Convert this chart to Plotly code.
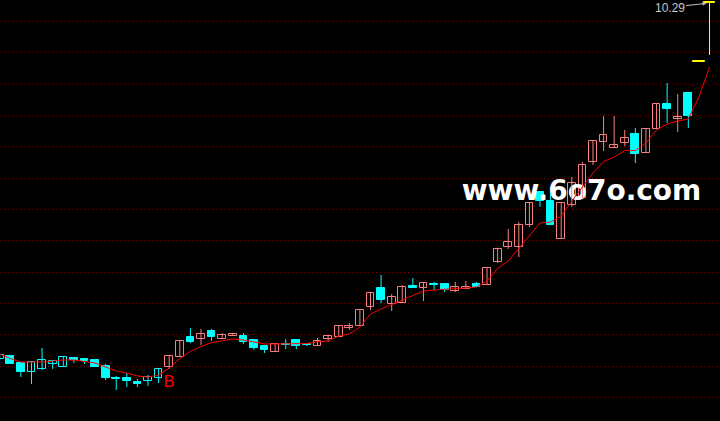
import plotly.graph_objects as go

# ---- candle data (prices) ----
OPEN = [6.73, 6.76, 6.69, 6.60, 6.63, 6.68, 6.65, 6.74, 6.73, 6.72,
        6.66, 6.54, 6.54, 6.50, 6.51, 6.54, 6.65, 6.75, 6.95, 6.93,
        7.01, 6.93, 6.96, 6.96, 6.92, 6.86, 6.80, 6.88, 6.92, 6.885,
        6.86, 6.93, 6.95, 7.04, 7.06, 7.25, 7.44, 7.28, 7.29, 7.46,
        7.44, 7.48, 7.48, 7.41, 7.43, 7.48, 7.47, 7.70, 7.85, 7.85,
        8.07, 8.40, 8.31, 7.93, 8.27, 8.34, 8.70, 8.90, 8.84, 8.89,
        8.98, 8.79, 9.03, 9.28, 9.13, 9.39, 9.70, 10.29]
CLOSE = [6.77, 6.68, 6.60, 6.70, 6.72, 6.71, 6.75, 6.72, 6.71, 6.65,
         6.54, 6.53, 6.51, 6.48, 6.55, 6.63, 6.76, 6.91, 6.90, 6.98,
         6.95, 6.97, 6.98, 6.90, 6.84, 6.82, 6.88, 6.875, 6.86, 6.875,
         6.91, 6.96, 7.06, 7.06, 7.22, 7.39, 7.32, 7.35, 7.45, 7.44,
         7.49, 7.47, 7.42, 7.45, 7.45, 7.45, 7.64, 7.83, 7.90, 8.07,
         8.29, 8.31, 8.07, 8.29, 8.49, 8.67, 8.91, 8.97, 8.87, 8.94,
         8.78, 9.03, 9.28, 9.23, 9.15, 9.16, 9.70, 10.29]
HIGH = [6.78, 6.76, 6.69, 6.71, 6.84, 6.71, 6.75, 6.75, 6.73, 6.72,
        6.68, 6.56, 6.59, 6.53, 6.57, 6.63, 6.76, 6.91, 7.04, 7.03,
        7.03, 6.99, 6.99, 6.99, 6.92, 6.86, 6.88, 6.93, 6.92, 6.885,
        6.94, 6.96, 7.07, 7.09, 7.22, 7.39, 7.57, 7.38, 7.47, 7.54,
        7.49, 7.50, 7.48, 7.50, 7.51, 7.50, 7.64, 7.83, 8.03, 8.10,
        8.29, 8.40, 8.39, 8.29, 8.55, 8.70, 8.91, 9.16, 9.16, 9.02,
        9.04, 9.03, 9.29, 9.49, 9.38, 9.39, 9.70, 10.29]
LOW = [6.72, 6.68, 6.55, 6.48, 6.62, 6.63, 6.65, 6.69, 6.68, 6.65,
       6.52, 6.42, 6.45, 6.45, 6.46, 6.49, 6.63, 6.75, 6.89, 6.87,
       6.91, 6.93, 6.96, 6.88, 6.82, 6.79, 6.80, 6.83, 6.83, 6.86,
       6.86, 6.90, 6.95, 7.02, 7.06, 7.22, 7.29, 7.21, 7.29, 7.44,
       7.31, 7.42, 7.40, 7.40, 7.43, 7.45, 7.47, 7.69, 7.83, 7.75,
       8.05, 8.25, 8.07, 7.93, 8.25, 8.34, 8.67, 8.81, 8.84, 8.86,
       8.69, 8.79, 9.03, 9.09, 9.00, 9.04, 9.70, 9.77]
# colour group of each candle: c = cyan, r = red, y = yellow
GROUP = list("cccccccccccccccc" "rrcrcrrccc" "rcccrrrrrr" "crrcrccrrc"
             "rrrrrccrrr" "rrrrcrrcrc" "yy")
# moving-average line
MA = [6.78, 6.735, 6.70, 6.70, 6.70, 6.71, 6.72, 6.72, 6.705, 6.69,
      6.65, 6.61, 6.59, 6.56, 6.55, 6.57, 6.64, 6.735, 6.805, 6.855,
      6.895, 6.91, 6.93, 6.92, 6.90, 6.88, 6.88, 6.88, 6.88, 6.885,
      6.90, 6.91, 6.96, 6.98, 7.05, 7.18, 7.23, 7.275, 7.325, 7.37,
      7.41, 7.42, 7.43, 7.435, 7.44, 7.45, 7.51, 7.635, 7.71, 7.84,
      7.965, 8.09, 8.10, 8.16, 8.31, 8.45, 8.59, 8.705, 8.75, 8.815,
      8.815, 8.89, 9.02, 9.08, 9.11, 9.13, 9.35, 9.65]
GRID_LEVELS = [6.347, 6.66, 6.974, 7.287, 7.60, 7.914, 8.227, 8.54,
               8.854, 9.167, 9.48, 9.794, 10.107]
SIGNAL_INDEX = 16
SIGNAL_PRICE = 6.49
SIGNAL_TEXT = "B"
WATERMARK = "www.6o7o.com"
WATERMARK_X = 54.92
WATERMARK_Y = 8.388

assert len(OPEN) == len(CLOSE) == len(HIGH) == len(LOW) == len(GROUP) == len(MA)

PINK = "#f88080"
CYAN = "#00ffff"
YELLOW = "#ffff00"
COL = {"r": PINK, "c": CYAN, "y": YELLOW}

n = len(OPEN)
idx = list(range(n))

fig = go.Figure()

# watermark (under the candles)
fig.add_trace(go.Scatter(
    x=[WATERMARK_X], y=[WATERMARK_Y], mode="text", text=[WATERMARK],
    textposition="middle center",
    textfont=dict(family="DejaVu Sans", size=28, color="#ffffff", weight="bold"),
    hoverinfo="skip"))

# wicks
for g in "rcy":
    xs, ys = [], []
    for i in idx:
        if GROUP[i] == g:
            xs += [i, i, None]
            ys += [LOW[i], HIGH[i], None]
    fig.add_trace(go.Scatter(x=xs, y=ys, mode="lines",
                             line=dict(color=COL[g], width=1), hoverinfo="skip"))

# bodies
base = [min(o, c) for o, c in zip(OPEN, CLOSE)]
height = [max(abs(c - o), 0.008) for o, c in zip(OPEN, CLOSE)]
fill = ["#000000" if (CLOSE[i] > OPEN[i] and GROUP[i] != "y") else COL[GROUP[i]] for i in idx]
edge = [COL[g] for g in GROUP]
width = [1.1 if g == "y" else 0.73 for g in GROUP]
fig.add_trace(go.Bar(x=idx, y=height, base=base, width=width,
                     marker=dict(color=fill, line=dict(color=edge, width=1)),
                     hoverinfo="skip"))

# moving average
fig.add_trace(go.Scatter(x=idx, y=MA, mode="lines",
                         line=dict(color="#ff0000", width=1), hoverinfo="skip"))

# buy signal
fig.add_trace(go.Scatter(x=[SIGNAL_INDEX], y=[SIGNAL_PRICE], mode="text",
                         text=[SIGNAL_TEXT], textposition="middle center",
                         textfont=dict(family="Liberation Sans", size=16, color="#ff0000"),
                         hoverinfo="skip"))

# highest price label
fig.add_annotation(x=n - 1, y=HIGH[-1], text=f"{HIGH[-1]:.2f}",
                   showarrow=True, ax=-40, ay=4.5, arrowhead=2, arrowsize=0.8,
                   arrowwidth=1, arrowcolor="#c0c0c0", standoff=3,
                   font=dict(family="Liberation Sans", size=12, color="#c8c8c8"))

fig.update_layout(
    width=720, height=421,
    margin=dict(l=0, r=0, t=0, b=0),
    paper_bgcolor="#000000", plot_bgcolor="#000000",
    showlegend=False, bargap=0,
    xaxis=dict(range=[0.028, 67.99], visible=False, showgrid=False, zeroline=False),
    yaxis=dict(range=[6.11, 10.32], tickvals=GRID_LEVELS, showticklabels=False,
               ticks="", showgrid=True, gridcolor="#7a0000", gridwidth=1,
               griddash="1px,3px", zeroline=False, showline=False),
)

fig.write_html("out.html", config={"displayModeBar": False})

# remove the browser's default page margin so the figure fills the window
with open("out.html", encoding="utf-8") as fh:
    page = fh.read()
page = page.replace("<head>", "<head><style>html,body{margin:0;padding:0;background:#000;overflow:hidden;}</style>", 1)
with open("out.html", "w", encoding="utf-8") as fh:
    fh.write(page)
